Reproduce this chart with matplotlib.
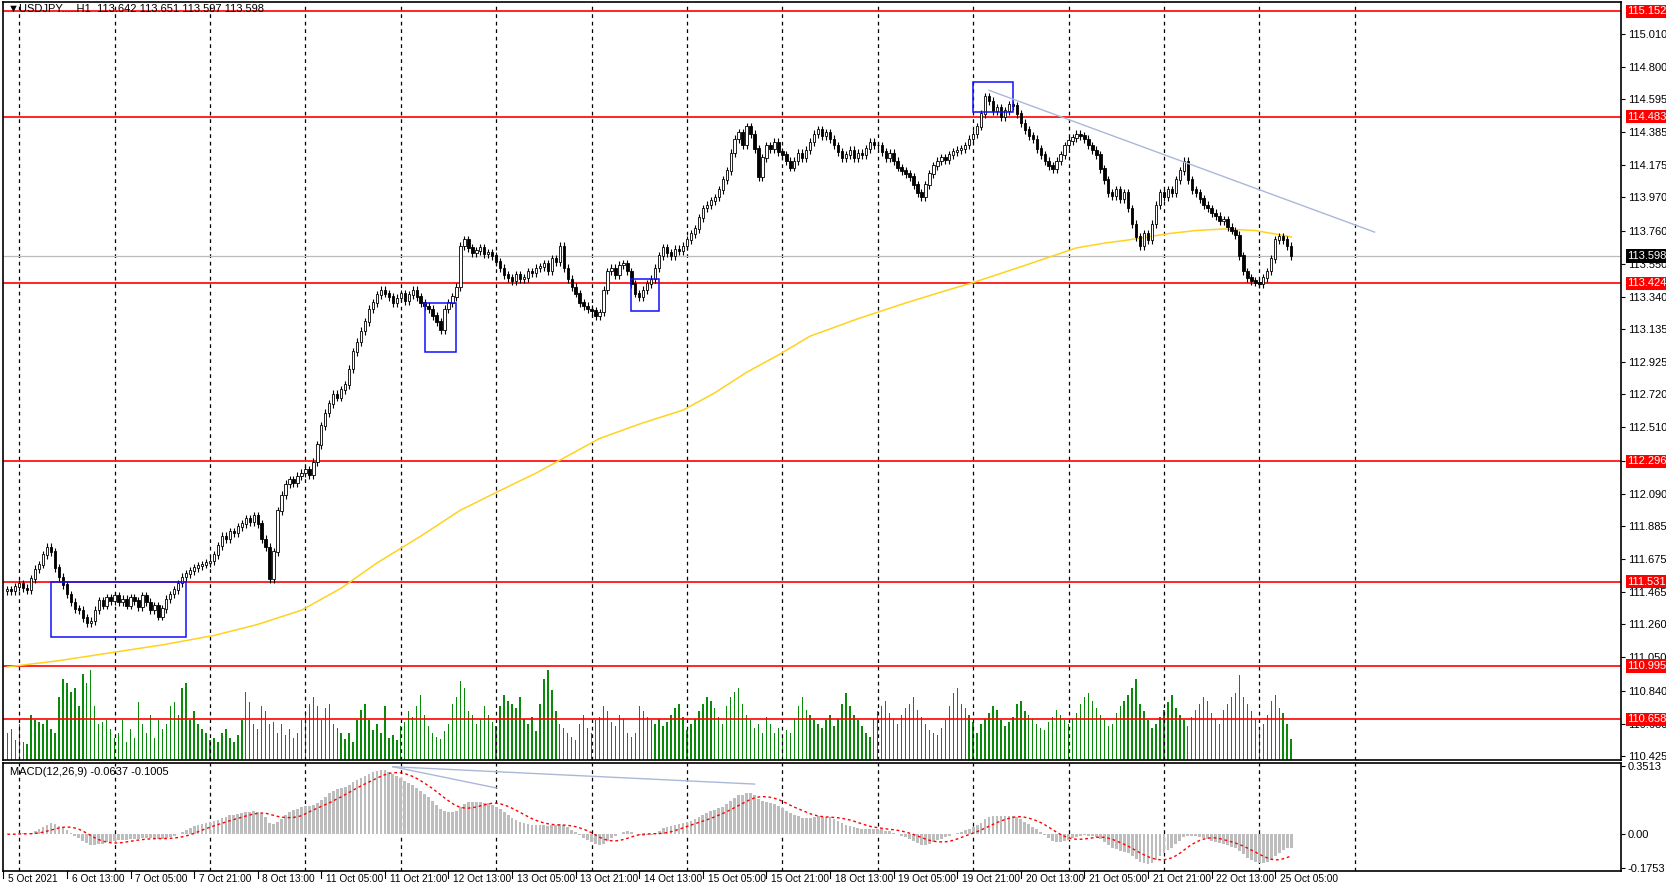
import matplotlib
matplotlib.use("Agg")
import matplotlib.pyplot as plt
import matplotlib.transforms as mtrans
from matplotlib.patches import Rectangle
import numpy as np
import pandas as pd

plt.rcParams['font.family'] = ['Liberation Sans', 'DejaVu Sans']

closes = [
111.48,111.47,111.50,111.52,111.49,111.48,111.55,111.61,111.64,111.70,111.75,111.72,111.62,111.56,111.51,111.45,
111.40,111.36,111.35,111.30,111.27,111.28,111.35,111.41,111.38,111.43,111.41,111.44,111.40,111.42,111.38,111.43,
111.41,111.37,111.44,111.40,111.35,111.38,111.31,111.36,111.42,111.45,111.48,111.52,111.56,111.58,111.60,111.62,
111.63,111.64,111.65,111.66,111.70,111.76,111.82,111.80,111.85,111.84,111.88,111.90,111.93,111.91,111.95,111.90,
111.80,111.75,111.55,111.72,111.98,112.08,112.15,112.18,112.16,112.20,112.22,112.24,112.21,112.29,112.40,112.52,
112.60,112.66,112.72,112.70,112.75,112.78,112.88,112.99,113.05,113.12,113.18,113.26,113.30,113.35,113.38,113.36,
113.34,113.30,113.33,113.36,113.31,113.35,113.38,113.34,113.30,113.28,113.26,113.22,113.18,113.13,113.26,113.30,
113.34,113.40,113.66,113.70,113.65,113.62,113.63,113.65,113.61,113.62,113.60,113.56,113.52,113.48,113.46,113.44,
113.48,113.45,113.46,113.50,113.49,113.52,113.53,113.55,113.50,113.58,113.56,113.66,113.52,113.45,113.40,113.36,
113.30,113.28,113.26,113.25,113.22,113.24,113.38,113.50,113.52,113.48,113.54,113.55,113.50,113.42,113.36,113.34,
113.38,113.42,113.45,113.52,113.60,113.65,113.62,113.60,113.64,113.63,113.66,113.70,113.74,113.77,113.84,113.90,
113.92,113.95,113.97,114.02,114.08,114.14,114.25,114.34,114.38,114.30,114.42,114.37,114.28,114.10,114.22,114.30,
114.28,114.32,114.26,114.24,114.20,114.16,114.20,114.25,114.22,114.27,114.32,114.37,114.40,114.36,114.38,114.34,
114.30,114.26,114.22,114.24,114.27,114.22,114.25,114.24,114.28,114.32,114.30,114.30,114.26,114.22,114.25,114.20,
114.16,114.14,114.12,114.10,114.05,114.00,113.97,114.05,114.12,114.17,114.20,114.22,114.21,114.24,114.26,114.27,
114.28,114.30,114.34,114.37,114.42,114.50,114.61,114.58,114.52,114.54,114.48,114.52,114.56,114.55,114.50,114.44,
114.40,114.36,114.34,114.28,114.24,114.20,114.17,114.15,114.20,114.24,114.30,114.33,114.35,114.37,114.36,114.34,
114.30,114.27,114.24,114.15,114.08,114.00,113.98,114.02,113.96,114.00,113.90,113.80,113.72,113.66,113.74,113.70,
113.80,113.92,114.00,113.97,114.02,114.00,114.08,114.14,114.20,114.08,114.02,114.00,113.96,113.92,113.90,113.87,
113.85,113.82,113.83,113.78,113.76,113.73,113.60,113.50,113.46,113.44,113.43,113.42,113.46,113.50,113.58,113.70,
113.72,113.70,113.66,113.598]

volumes = [
30,35,22,40,20,18,50,45,42,40,45,35,30,70,90,85,
75,80,60,95,85,100,60,40,42,45,35,25,30,45,20,35,
25,65,40,30,50,25,45,35,40,60,65,50,80,85,45,55,
40,35,30,22,25,20,30,35,25,20,28,45,75,65,40,35,
60,55,40,42,30,40,28,35,25,30,45,55,62,70,60,45,
58,62,40,36,30,24,30,20,45,56,62,45,34,40,30,60,
25,28,22,38,42,55,48,60,72,50,38,30,26,24,32,40,
62,70,88,80,54,50,40,46,60,50,42,38,60,72,66,62,
58,70,46,40,48,32,62,90,100,78,54,40,36,30,26,22,
40,50,36,30,44,48,60,54,42,38,50,46,30,26,30,60,
54,48,44,40,46,38,42,50,58,62,48,34,40,46,54,62,
70,66,58,48,40,60,70,76,80,62,50,44,36,40,30,48,
40,30,36,26,34,30,46,60,70,56,50,44,40,36,44,50,
38,46,62,74,60,50,44,38,30,26,46,54,60,66,52,46,
40,50,58,62,70,56,48,40,34,30,28,36,44,60,74,80,
62,58,50,42,30,40,46,52,60,56,44,38,42,48,62,66,
54,50,46,40,36,34,42,48,56,50,44,40,46,52,62,70,
74,66,58,50,44,38,40,52,60,66,72,80,90,62,54,44,
36,40,48,56,64,72,58,50,44,38,48,56,62,70,66,52,
46,40,56,62,70,74,94,70,62,54,46,32,40,50,66,72,
58,52,40,24]

ma_bars = [0, 13, 26, 39, 52, 63, 74, 84, 93, 104, 114, 124, 133, 141, 149, 160, 170, 178, 186, 194,
           202, 214, 226, 235, 243, 249, 255, 262, 269, 276, 282, 287, 292, 299, 306, 314, 323]
ma_vals = [110.99, 111.03, 111.08, 111.13, 111.19, 111.26, 111.35, 111.49, 111.65, 111.82, 111.985,
           112.11, 112.22, 112.33, 112.44, 112.54, 112.62, 112.73, 112.86, 112.97, 113.09, 113.20,
           113.30, 113.37, 113.43, 113.48, 113.53, 113.59, 113.65, 113.68, 113.70, 113.72, 113.74,
           113.76, 113.77, 113.76, 113.72]

levels = [115.152, 114.483, 113.424, 112.296, 111.531, 110.995, 110.658]
last_price = 113.598
price_ticks = [115.010, 114.800, 114.595, 114.385, 114.175, 113.970, 113.760, 113.550, 113.340, 113.135,
               112.925, 112.720, 112.510, 112.300, 112.090, 111.885, 111.675, 111.465, 111.260, 111.050,
               110.840, 110.630, 110.425]
date_labels = ["5 Oct 2021", "6 Oct 13:00", "7 Oct 05:00", "7 Oct 21:00", "8 Oct 13:00", "11 Oct 05:00",
               "11 Oct 21:00", "12 Oct 13:00", "13 Oct 05:00", "13 Oct 21:00", "14 Oct 13:00",
               "15 Oct 05:00", "15 Oct 21:00", "18 Oct 13:00", "19 Oct 05:00", "19 Oct 21:00",
               "20 Oct 13:00", "21 Oct 05:00", "21 Oct 21:00", "22 Oct 13:00", "25 Oct 05:00"]

c = np.array(closes)
n = len(c)
o = np.concatenate([[c[0] - 0.01], c[:-1]])
hi = np.maximum(o, c) + 0.025
lo = np.minimum(o, c) - 0.025
x = np.arange(n)

FS = 8
fig = plt.figure(figsize=(16.66, 8.85), dpi=100)
ax = fig.add_axes([0.002, 0.141, 0.971, 0.857])
axm = fig.add_axes([0.002, 0.016, 0.971, 0.122])
XL = (-1, 406)
for a in (ax, axm):
    a.set_xlim(*XL)
    for s in a.spines.values():
        s.set_color("black"); s.set_linewidth(1.2)
    a.set_xticks([])

grid_x = np.arange(3, 345, 24)
for g in grid_x:
    ax.axvline(g, color="black", ls=(0, (3, 3)), lw=0.9, zorder=0)
    axm.axvline(g, color="black", ls=(0, (3, 3)), lw=0.9, zorder=0)

axv = ax.twinx()
axv.set_ylim(0, 840)
axv.set_xlim(*XL)
axv.bar(x, volumes, width=0.35, color="#0a8a0a", zorder=1)
axv.axis("off")
ax.set_zorder(axv.get_zorder() + 1)
ax.patch.set_visible(False)

ax.set_ylim(110.398, 115.212)
for lv in levels:
    ax.axhline(lv, color="red", lw=1.2, zorder=2)
ax.axhline(last_price, color="#bbbbbb", lw=0.9, zorder=2)
ax.plot(ma_bars, ma_vals, color="#ffd21f", lw=1.1, zorder=3)

up = c >= o
ax.vlines(x, lo, hi, color="black", lw=0.8, zorder=4)
ax.bar(x[up], (c - o)[up] + 0.004, bottom=o[up], width=0.6, color="white", edgecolor="black", lw=0.6, zorder=5)
ax.bar(x[~up], (o - c)[~up] + 0.004, bottom=c[~up], width=0.6, color="black", edgecolor="black", lw=0.6, zorder=5)

for (b0, b1, p0, p1) in [(11, 45, 111.18, 111.53), (105, 113, 112.99, 113.30),
                         (157, 164, 113.25, 113.45), (243, 253, 114.51, 114.70)]:
    ax.add_patch(Rectangle((b0, p0), b1 - b0, p1 - p0, fill=False, ec="#1010ff", lw=1.1, zorder=6))
ax.plot([247, 344], [114.65, 113.75], color="#aab8d8", lw=1, zorder=6)

ax.yaxis.tick_right()
ax.set_yticks(price_ticks)
ax.set_yticklabels([f"{t:.3f}" for t in price_ticks], fontsize=FS)
ax.tick_params(axis="y", length=3, pad=2)
tr = mtrans.blended_transform_factory(ax.transAxes, ax.transData)
for lv in levels:
    ax.text(1.004, lv, f"{lv:.3f}", transform=tr, fontsize=FS, color="white", va="center", ha="left",
            bbox=dict(boxstyle="square,pad=0.15", fc="red", ec="none"), zorder=10, clip_on=False)
ax.text(1.004, last_price, f"{last_price:.3f}", transform=tr, fontsize=FS, color="white", va="center",
        ha="left", bbox=dict(boxstyle="square,pad=0.15", fc="black", ec="none"), zorder=10, clip_on=False)
ax.text(0.003, 0.997, "▼USDJPY.....H1  113.642 113.651 113.597 113.598", transform=ax.transAxes,
        fontsize=FS, va="top", ha="left")

s = pd.Series(c)
macd = (s.ewm(span=12, adjust=False).mean() - s.ewm(span=26, adjust=False).mean()).values
sig = pd.Series(macd).rolling(9, min_periods=1).mean().values
axm.bar(x, macd, width=0.7, color="#bdbdbd", zorder=2)
axm.plot(x, sig, color="red", ls=(0, (2, 2)), lw=1, zorder=3)
axm.plot([97, 188], [0.35, 0.26], color="#aab8d8", lw=1, zorder=4)
axm.plot([97, 123], [0.35, 0.24], color="#aab8d8", lw=1, zorder=4)
axm.set_ylim(-0.19, 0.37)
axm.yaxis.tick_right()
axm.set_yticks([0.3513, 0.0, -0.1753])
axm.set_yticklabels(["0.3513", "0.00", "-0.1753"], fontsize=FS)
axm.tick_params(axis="y", length=3, pad=2)
axm.text(0.004, 0.96, "MACD(12,26,9) -0.0637 -0.1005", transform=axm.transAxes, fontsize=FS, va="top")

trb = mtrans.blended_transform_factory(axm.transData, fig.transFigure)
for k, lab in enumerate(date_labels):
    xb = -1 + 16 * k
    axm.text(xb + 1.2, 0.001, lab, transform=trb, fontsize=7.3, ha="left", va="bottom", clip_on=False)
    axm.plot([xb, xb], [0.008, 0.016], transform=trb, color="black", lw=0.8, clip_on=False)

fig.savefig("out.png", dpi=100)
